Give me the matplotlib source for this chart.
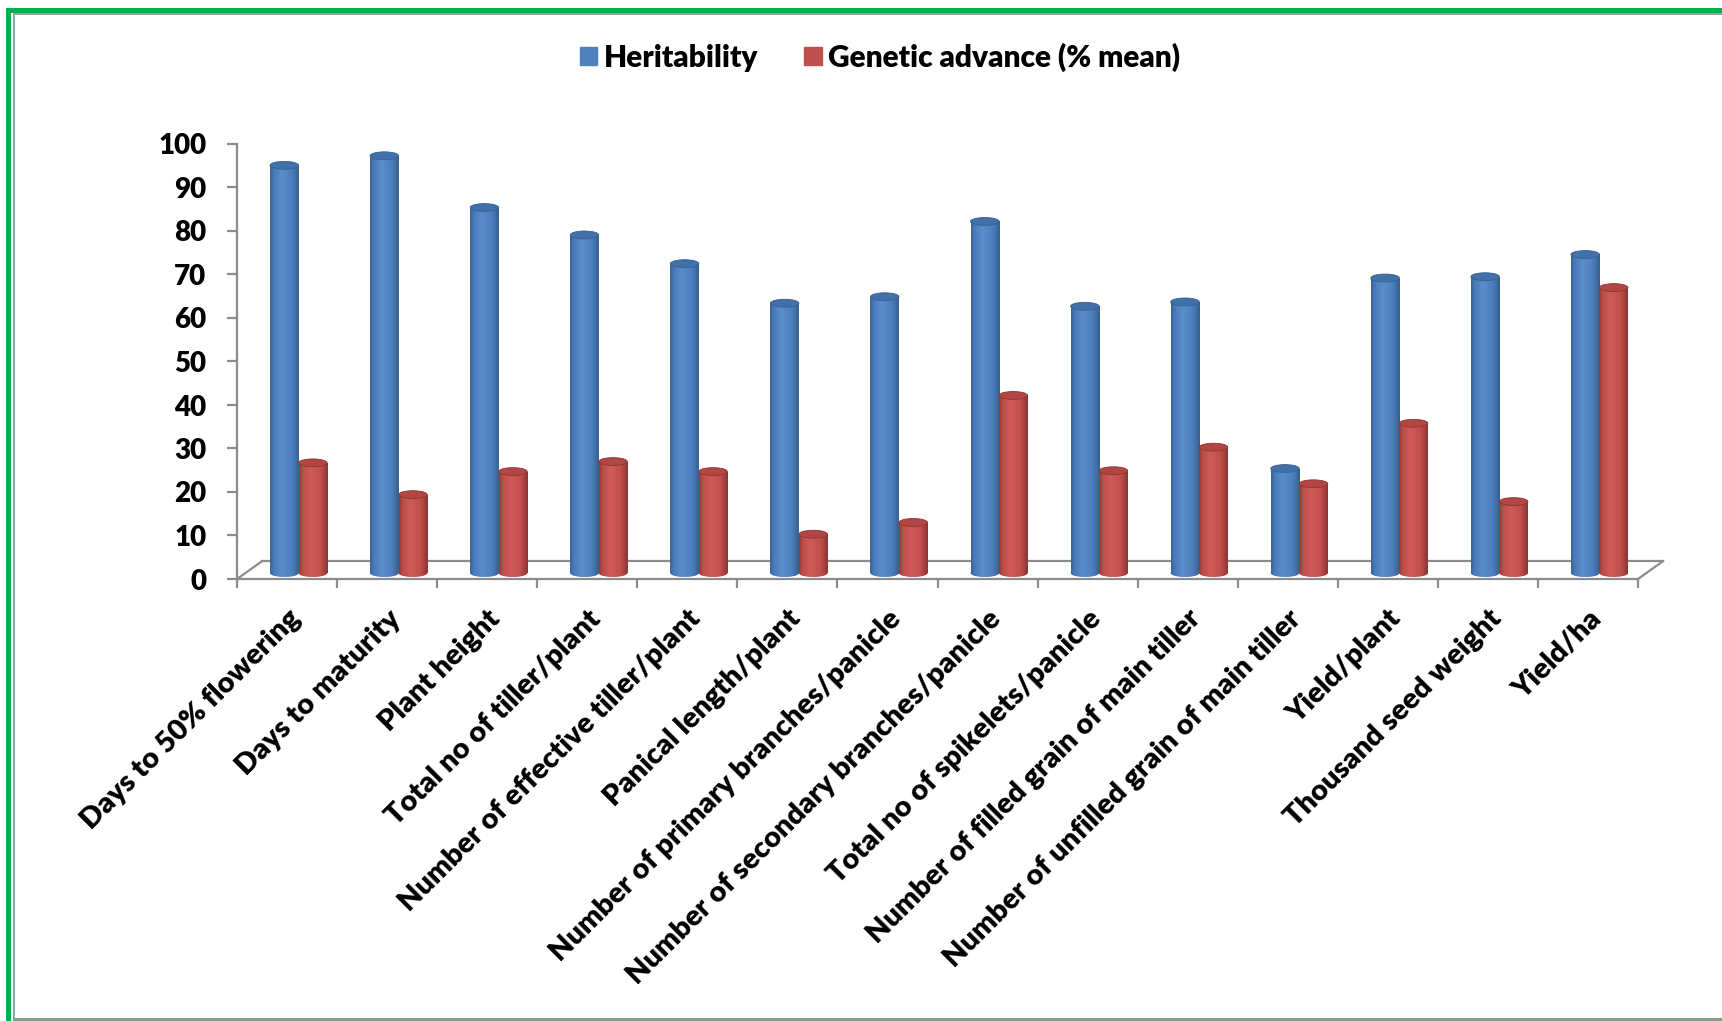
import numpy as np
import matplotlib
matplotlib.use("Agg")
import matplotlib.pyplot as plt
from matplotlib.patches import Ellipse, Rectangle
from matplotlib.colors import to_rgb

traits = ["Days to 50% flowering", "Days to maturity", "Plant height",
          "Total no of tiller/plant", "Number of effective tiller/plant",
          "Panical length/plant", "Number of primary branches/panicle",
          "Number of secondary branches/panicle", "Total no of spikelets/panicle",
          "Number of filled grain of main tiller",
          "Number of unfilled grain of main tiller", "Yield/plant",
          "Thousand seed weight", "Yield/ha"]
heritability = [93.7, 95.9, 84.0, 77.7, 71.1, 62.0, 63.5, 80.8, 61.3, 62.3,
                24.0, 67.8, 68.1, 73.2]
genetic_advance = [25.3, 18.0, 23.3, 25.6, 23.3, 8.9, 11.6, 40.8, 23.5, 28.9,
                   20.5, 34.4, 16.4, 65.6]
series_names = ["Heritability", "Genetic advance (% mean)"]
yticks = list(range(0, 101, 10))

plt.rcParams["font.family"] = ["Lato", "DejaVu Sans"]
WEIGHT = "heavy"

W, H = 1722, 1021
fig = plt.figure(figsize=(W / 100, H / 100), dpi=100)
fig.patch.set_facecolor("white")

# axes box: floor front edge from x=237..1638 px, value 0..100 at y=579..144 px
ax = fig.add_axes([237 / W, 1 - 579 / H, 1401 / W, 435 / H])
ax.set_facecolor("none")

gray = "#8c8c8c"
base = 1.4          # cylinders stand in the middle of the floor
bar_w = 0.285
cap_h = 1.8
depth_dx, depth_dy = 0.25, 4.1

# cylinder shading stops across the bar width
stops = [0.0, 0.15, 0.4, 0.75, 1.0]
shades = {
    "blue": ["#3b6498", "#4a7dbd", "#5b8ccc", "#4d7fc0", "#36608f"],
    "red": ["#983a38", "#be4f4c", "#d05a57", "#c24f4d", "#8c3432"],
}
caps = {"blue": "#4270a8", "red": "#b24644"}
flat = {"blue": "#4f81bd", "red": "#c0504d"}


def gradient(name, n=64):
    t = np.linspace(0, 1, n)
    cols = np.array([to_rgb(c) for c in shades[name]])
    img = np.stack([np.interp(t, stops, cols[:, i]) for i in range(3)], axis=-1)
    return img[np.newaxis, :, :]


def cylinders(x_left, values, name):
    bars = ax.bar(x_left, values, width=bar_w, bottom=base, align="edge",
                  color=flat[name], linewidth=0, zorder=3)
    img = gradient(name)
    for b in bars:
        x0, w = b.get_x(), b.get_width()
        y0, h = b.get_y(), b.get_height()
        # rounded bottom
        bottom = Ellipse((x0 + w / 2, y0), w, cap_h, facecolor=flat[name],
                         linewidth=0, zorder=3)
        ax.add_patch(bottom)
        for clip, ext in ((b, (x0, x0 + w, y0, y0 + h)),
                          (bottom, (x0, x0 + w, y0 - cap_h, y0 + cap_h))):
            im = ax.imshow(img, extent=ext, aspect="auto", zorder=3.5,
                           interpolation="bilinear")
            im.set_clip_path(clip)
        ax.add_patch(Ellipse((x0 + w / 2, y0 + h), w, cap_h,
                             facecolor=caps[name], edgecolor=shades[name][4],
                             linewidth=0.6, zorder=4))
    return bars


n = len(traits)
idx = np.arange(n)
cylinders(idx + 0.33, heritability, "blue")
cylinders(idx + 0.33 + bar_w, genetic_advance, "red")

# floor of the 3-D plot
floor_kw = dict(color=gray, lw=1.6, clip_on=False, zorder=1)
ax.plot([0, depth_dx], [0, depth_dy], **floor_kw)
ax.plot([depth_dx, n + depth_dx], [depth_dy, depth_dy], **floor_kw)
ax.plot([n, n + depth_dx], [0, depth_dy], **floor_kw)

ax.set_xlim(0, n)
ax.set_ylim(0, 100)

for s in ["top", "right"]:
    ax.spines[s].set_visible(False)
for s in ["left", "bottom"]:
    ax.spines[s].set_color(gray)
    ax.spines[s].set_linewidth(1.6)
ax.spines["left"].set_bounds(0, 100)

ax.set_yticks(yticks)
ax.set_yticklabels([str(v) for v in yticks], fontsize=20, fontweight=WEIGHT)
ax.tick_params(axis="y", length=7, width=1.6, color=gray, pad=15)

ax.set_xticks(idx + 0.5)
ax.set_xticklabels(traits, rotation=45, ha="right", rotation_mode="anchor",
                   fontsize=21, fontweight=WEIGHT)
ax.tick_params(axis="x", which="major", length=0, pad=19)
ax.set_xticks(np.arange(n + 1), minor=True)
ax.tick_params(axis="x", which="minor", length=6.5, width=1.6, color=gray)

handles = [Rectangle((0, 0), 1, 1, color=flat["blue"]),
           Rectangle((0, 0), 1, 1, color=flat["red"])]
fig.legend(handles, series_names, loc="center", ncol=2,
           bbox_to_anchor=(880 / W, 1 - 57 / H), frameon=False,
           prop={"size": 21.5, "weight": WEIGHT}, handlelength=0.58,
           handleheight=0.58, handletextpad=0.22, columnspacing=1.55)

# outer frame: green border at top and left, thin gray inner rule
def px_rect(x, y, w, h, color):
    fig.add_artist(Rectangle((x / W, 1 - (y + h) / H), w / W, h / H,
                             transform=fig.transFigure, color=color, lw=0))

px_rect(6, 8, W - 6, 5, "#00b050")
px_rect(6, 8, 5, H - 8, "#00b050")
px_rect(13, 13, W - 13, 2, "#a0a0a0")
px_rect(13, 13, 2, H - 13, "#a0a0a0")
px_rect(13, H - 3, W - 13, 3, "#8a9a8a")

fig.savefig("out.png", dpi=100, facecolor="white")
